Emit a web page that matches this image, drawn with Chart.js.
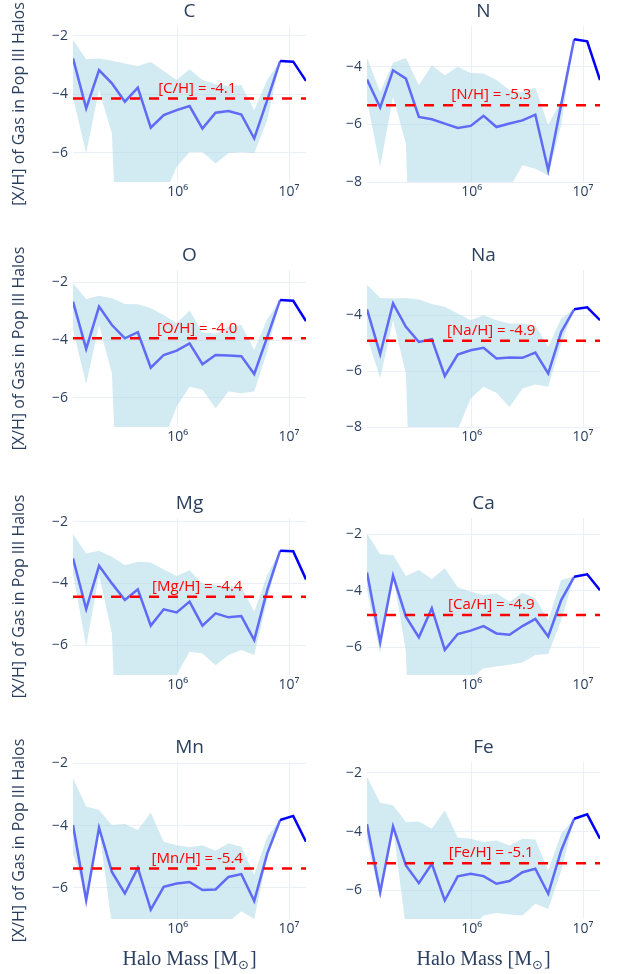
<!DOCTYPE html>
<html>
<head>
<meta charset="utf-8">
<script src="https://cdn.jsdelivr.net/npm/chart.js@4.4.0/dist/chart.umd.min.js"></script>
<style>
html, body { margin: 0; padding: 0; background: #fff; }
body { width: 618px; height: 974px; position: relative; overflow: hidden; }
canvas { position: absolute; }
</style>
</head>
<body>
<script>
// halo mass bins (Msun)
const haloMass = [1.15e5, 1.51e5, 1.97e5, 2.57e5, 3.36e5, 4.39e5, 5.74e5, 7.50e5, 9.80e5, 1.28e6,
                  1.67e6, 2.19e6, 2.86e6, 3.73e6, 4.87e6, 6.37e6, 8.32e6, 1.09e7, 1.42e7];

const elements = ['C', 'N', 'O', 'Na', 'Mg', 'Ca', 'Mn', 'Fe'];
const meanAbund = [-4.14, -5.33, -3.94, -4.91, -4.43, -4.86, -5.38, -5.07];
const meanLabels = ['[C/H] = -4.1', '[N/H] = -5.3', '[O/H] = -4.0', '[Na/H] = -4.9',
                    '[Mg/H] = -4.4', '[Ca/H] = -4.9', '[Mn/H] = -5.4', '[Fe/H] = -5.1'];

// median per bin, and upper / lower envelope (first 17 bins)
const medC = [-2.77, -4.48, -3.17, -3.62, -4.25, -3.77, -5.14, -4.71, -4.54, -4.40, -5.17, -4.63, -4.57, -4.69, -5.51, -4.20, -2.86, -2.88, -3.54];
const upC  = [-2.14, -2.80, -2.77, -2.85, -2.94, -3.03, -2.89, -3.20, -3.51, -3.14, -3.51, -3.65, -3.71, -3.68, -4.54, -3.50, -2.86];
const loC  = [-4.10, -6.02, -3.85, -5.34, -16, -9, -9, -7.5, -6.48, -5.97, -5.97, -6.37, -6.02, -5.97, -6.02, -4.88, -2.86];

const medN = [-4.44, -5.41, -4.12, -4.41, -5.74, -5.82, -5.97, -6.12, -6.05, -5.70, -6.09, -5.97, -5.86, -5.66, -7.59, -5.30, -3.04, -3.11, -4.46];
const upN  = [-3.68, -4.87, -3.86, -3.69, -4.64, -3.94, -4.29, -4.00, -4.21, -4.23, -4.46, -4.81, -4.87, -4.72, -6.03, -5.15, -3.04];
const loN  = [-5.16, -7.48, -5.04, -6.67, -20, -10, -10, -10, -10, -10, -10, -8.2, -7.42, -7.54, -7.77, -6.00, -3.04];

const medO = [-2.67, -4.31, -2.84, -3.48, -3.94, -3.73, -4.96, -4.52, -4.37, -4.12, -4.84, -4.52, -4.54, -4.56, -5.18, -3.90, -2.61, -2.64, -3.34];
const upO  = [-2.03, -2.58, -2.46, -2.55, -2.75, -2.76, -2.90, -3.13, -3.42, -2.98, -3.73, -3.79, -3.54, -3.48, -4.35, -3.28, -2.61];
const loO  = [-3.65, -5.53, -3.48, -5.16, -16, -9, -9, -7.5, -6.31, -5.62, -5.73, -6.37, -5.79, -5.85, -5.79, -4.40, -2.61];

const medNa = [-3.78, -5.39, -3.57, -4.41, -4.95, -4.85, -6.17, -5.40, -5.25, -5.16, -5.54, -5.51, -5.52, -5.33, -6.08, -4.59, -3.78, -3.71, -4.17];
const upNa  = [-2.89, -3.37, -3.39, -3.37, -3.43, -3.59, -3.69, -3.93, -4.17, -3.99, -4.17, -4.29, -4.29, -4.35, -5.13, -4.11, -3.78];
const loNa  = [-4.77, -6.24, -4.17, -6.08, -20, -10, -10, -8.1, -6.98, -6.56, -6.77, -7.28, -6.62, -6.48, -6.56, -5.00, -3.78];

const medMg = [-3.19, -4.83, -3.43, -4.00, -4.54, -4.19, -5.37, -4.84, -4.94, -4.59, -5.37, -4.97, -5.10, -5.06, -5.84, -4.22, -2.94, -2.96, -3.87];
const upMg  = [-2.40, -3.03, -2.94, -3.14, -3.41, -3.30, -3.32, -3.55, -3.76, -3.57, -4.00, -4.05, -4.09, -4.11, -4.92, -3.73, -2.94];
const loMg  = [-3.68, -6.05, -3.73, -5.62, -16, -9, -9, -9, -6.97, -6.22, -6.27, -6.65, -6.32, -6.16, -6.32, -4.54, -2.94];

const medCa = [-3.36, -5.82, -3.47, -4.92, -5.65, -4.62, -6.09, -5.53, -5.41, -5.25, -5.51, -5.56, -5.25, -5.00, -5.62, -4.33, -3.51, -3.42, -3.98];
const upCa  = [-1.98, -2.71, -2.74, -3.48, -3.27, -3.59, -3.21, -3.88, -4.04, -4.15, -4.09, -4.39, -4.07, -4.27, -5.04, -3.62, -3.51];
const loCa  = [-3.98, -6.21, -3.45, -6.15, -20, -9, -9, -9, -7.10, -6.74, -6.68, -6.62, -6.54, -6.27, -6.24, -5.04, -3.51];

const medMn = [-3.98, -6.40, -4.07, -5.49, -6.18, -5.36, -6.70, -5.97, -5.86, -5.81, -6.07, -6.05, -5.65, -5.56, -6.42, -4.90, -3.82, -3.69, -4.52];
const upMn  = [-2.48, -3.39, -3.50, -3.98, -3.95, -4.14, -3.59, -4.52, -4.63, -4.70, -4.63, -4.81, -4.57, -4.68, -5.59, -4.36, -3.82];
const loMn  = [-4.90, -6.29, -4.09, -7.20, -9, -9, -9, -9, -9, -9, -9, -9, -7.10, -6.75, -7.00, -5.00, -3.82];

const medFe = [-3.75, -6.06, -3.82, -5.15, -5.75, -5.09, -6.34, -5.52, -5.43, -5.51, -5.77, -5.68, -5.38, -5.26, -6.11, -4.64, -3.56, -3.41, -4.24];
const upFe  = [-2.14, -3.02, -3.10, -3.67, -3.65, -3.90, -3.27, -4.20, -4.24, -4.35, -4.30, -4.47, -4.24, -4.27, -5.31, -4.07, -3.56];
const loFe  = [-4.30, -6.28, -3.84, -7.30, -9, -9, -9, -9, -7.30, -6.85, -6.77, -6.82, -6.85, -6.45, -6.63, -5.32, -3.56];

const medians = [medC, medN, medO, medNa, medMg, medCa, medMn, medFe];
const uppers = [upC, upN, upO, upNa, upMg, upCa, upMn, upFe];
const lowers = [loC, loN, loO, loNa, loMg, loCa, loMn, loFe];

// axis ranges and ticks
const yMin = [-7.0, -8.0, -7.02, -8.0, -6.97, -6.98, -7.0, -6.97];
const yMax = [-1.66, -2.58, -1.57, -2.37, -1.88, -1.43, -1.96, -1.63];
const yTicks = [[-6, -4, -2], [-8, -6, -4], [-6, -4, -2], [-8, -6, -4],
                [-6, -4, -2], [-6, -4, -2], [-6, -4, -2], [-6, -4, -2]];
const xTickVals = [1e6, 1e7];
const xTickLabels = ['10\u2076', '10\u2077'];
const noteMass = 1.5e6;
const splitIdx = 16; // dark segment starts here

// layout (pixels)
const rowTop = [26, 270, 518, 762];
const rowBottom = [182, 427, 675, 919];
const colLeft = [0, 309];
const canvasW = 309;
const yAxisW = [73, 58];
const padRight = [3, 18];

const fontFam = '"Open Sans", "DejaVu Sans", sans-serif';
const inkColor = '#2a3f5f';
const gridColor = '#ebf0f8';

const panelText = {
    id: 'panelText',
    afterDatasetsDraw(chart, args, o) {
        const ctx = chart.ctx;
        const a = chart.chartArea;
        const xs = chart.scales.x;
        const ys = chart.scales.y;
        ctx.save();
        ctx.textAlign = 'center';
        ctx.textBaseline = 'middle';
        ctx.fillStyle = inkColor;
        ctx.font = '19px ' + fontFam;
        ctx.fillText(o.title, (a.left + a.right) / 2, a.top - 14);

        ctx.fillStyle = '#ff0000';
        ctx.font = '15px ' + fontFam;
        ctx.fillText(o.note, xs.getPixelForValue(o.noteAt), ys.getPixelForValue(o.level) - 10);

        if (o.xTitle) {
            const big = '20px "Liberation Serif", "DejaVu Serif", serif';
            const small = '13px "DejaVu Sans", sans-serif';
            ctx.textAlign = 'left';
            ctx.textBaseline = 'alphabetic';
            ctx.fillStyle = inkColor;
            ctx.font = big;
            const w1 = ctx.measureText('Halo Mass [M').width;
            const w3 = ctx.measureText(']').width;
            ctx.font = small;
            const w2 = ctx.measureText('\u2299').width;
            let x = (a.left + a.right) / 2 - (w1 + w2 + w3 + 1) / 2;
            const y = a.bottom + 46;
            ctx.font = big;
            ctx.fillText('Halo Mass [M', x, y);
            x += w1;
            ctx.font = small;
            ctx.fillText('\u2299', x, y + 4);
            x += w2 + 1;
            ctx.font = big;
            ctx.fillText(']', x, y);
        }
        ctx.restore();
    }
};

function pts(xs, ys) {
    return ys.map((v, i) => ({ x: xs[i], y: v }));
}

function makePanel(k) {
    const row = Math.floor(k / 2);
    const col = k % 2;
    const last = row === 3;
    const top = rowTop[row] - 26;
    const plotBottom = rowBottom[row] - top;
    const h = last ? 974 - top : plotBottom + 34;
    const xAxisH = h - plotBottom;

    const canvas = document.createElement('canvas');
    canvas.width = canvasW;
    canvas.height = h;
    canvas.style.left = colLeft[col] + 'px';
    canvas.style.top = top + 'px';
    canvas.style.width = canvasW + 'px';
    canvas.style.height = h + 'px';
    document.body.appendChild(canvas);

    const med = medians[k];
    const up = uppers[k];
    const lo = lowers[k];

    new Chart(canvas.getContext('2d'), {
        type: 'line',
        data: {
            datasets: [
                {
                    data: haloMass.map(m => ({ x: m, y: meanAbund[k] })),
                    borderColor: '#ff0000',
                    borderWidth: 2.5,
                    borderDash: [10, 9],
                    pointRadius: 0,
                    fill: false
                },
                {
                    data: pts(haloMass.slice(splitIdx), med.slice(splitIdx)),
                    borderColor: '#0000ff',
                    borderWidth: 2.5,
                    pointRadius: 0,
                    fill: false
                },
                {
                    data: pts(haloMass.slice(0, splitIdx + 1), med.slice(0, splitIdx + 1)),
                    borderColor: '#5f6af6',
                    borderWidth: 2.5,
                    pointRadius: 0,
                    fill: false
                },
                {
                    data: pts(haloMass, lo),
                    borderColor: 'rgba(0,0,0,0)',
                    borderWidth: 1,
                    pointRadius: 0,
                    fill: '+1',
                    backgroundColor: 'rgba(173,216,230,0.55)'
                },
                {
                    data: pts(haloMass, up),
                    borderColor: 'rgba(0,0,0,0)',
                    borderWidth: 1,
                    pointRadius: 0,
                    fill: false
                }
            ]
        },
        options: {
            responsive: false,
            animation: false,
            devicePixelRatio: 1,
            events: [],
            layout: { padding: { top: 26, right: padRight[col], bottom: 0, left: 0 } },
            elements: { line: { tension: 0 } },
            plugins: {
                legend: { display: false },
                tooltip: { enabled: false },
                title: { display: false },
                panelText: {
                    title: elements[k],
                    note: meanLabels[k],
                    noteAt: noteMass,
                    level: meanAbund[k],
                    xTitle: last
                }
            },
            scales: {
                x: {
                    type: 'logarithmic',
                    bounds: 'data',
                    min: haloMass[0],
                    max: haloMass[haloMass.length - 1],
                    afterBuildTicks: s => { s.ticks = xTickVals.map(v => ({ value: v })); },
                    afterFit: s => { s.height = xAxisH; },
                    grid: { color: gridColor, lineWidth: 1, drawTicks: false },
                    border: { display: false },
                    ticks: {
                        autoSkip: false,
                        maxRotation: 0,
                        padding: 2,
                        color: inkColor,
                        font: { family: fontFam, size: 14 },
                        callback: v => xTickLabels[xTickVals.indexOf(v)]
                    }
                },
                y: {
                    type: 'linear',
                    bounds: 'data',
                    min: yMin[k],
                    max: yMax[k],
                    afterBuildTicks: s => { s.ticks = yTicks[k].map(v => ({ value: v })); },
                    afterFit: s => { s.width = yAxisW[col]; },
                    grid: { color: gridColor, lineWidth: 1, drawTicks: false },
                    border: { display: false },
                    ticks: {
                        padding: 5,
                        color: inkColor,
                        font: { family: fontFam, size: 14 },
                        callback: v => (v < 0 ? '\u2212' + Math.abs(v) : String(v))
                    },
                    title: {
                        display: col === 0,
                        text: '[X/H] of Gas in Pop III Halos',
                        color: inkColor,
                        font: { family: fontFam, size: 16 },
                        padding: { top: 10, bottom: 0 }
                    }
                }
            }
        },
        plugins: [panelText]
    });
}

for (let k = 0; k < elements.length; k++) {
    makePanel(k);
}
</script>
</body>
</html>
